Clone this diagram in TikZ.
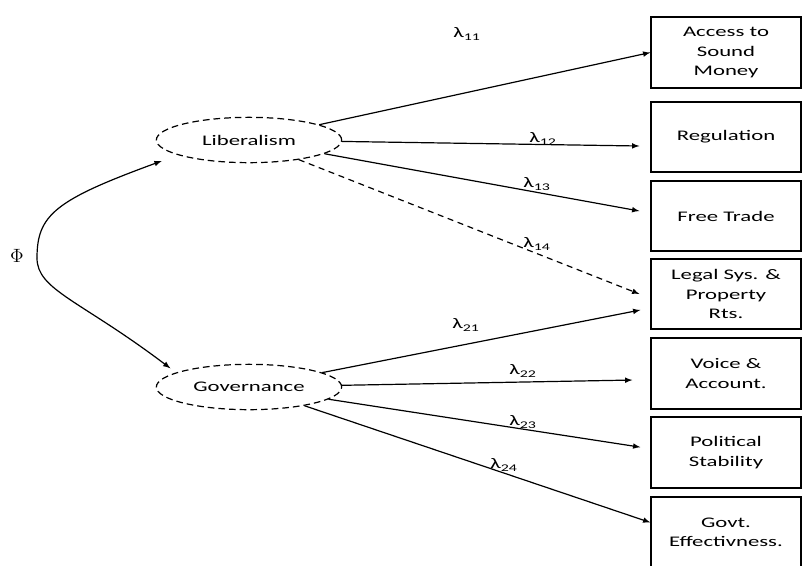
\documentclass[tikz,border=0pt]{standalone}
\usepackage{fontspec}
\setmainfont[FakeStretch=1.55]{Carlito}
\usetikzlibrary{shapes.geometric}

\begin{document}
\begin{tikzpicture}[x=0.75pt, y=-0.75pt,
	latent/.style={ellipse, draw, dash pattern=on 5pt off 3pt, line width=0.9pt, minimum width=139pt, minimum height=34pt, inner sep=0pt, font=\fontsize{11}{14}\selectfont},
	indicator/.style={draw, line width=1.4pt, minimum width=112pt, minimum height=53pt, align=center, inner sep=1pt, font=\fontsize{11}{14.5}\selectfont},
	load/.style={line width=0.9pt, ->, >=latex},
	coef/.style={font=\fontsize{11}{13}\selectfont}]
	\useasboundingbox (0,0) rectangle (802,565);
	% latent factors
	\node at (17,256) (phi) {\Large$\Phi$};
	\coordinate (fork) at (37,258);
	\node[latent] at (249,140) (lib) {Liberalism};
	\node[latent] at (249,387) (gov) {Governance};
	% indicators
	\node[indicator] at (726,52.5) (money) {Access to\\Sound\\Money};
	\node[indicator] at (726,137) (regul) {Regulation};
	\node[indicator] at (726,216) (trade) {Free Trade};
	\node[indicator] at (726,294) (legal) {Legal Sys. \&\\Property\\Rts.};
	\node[indicator] at (726,373.5) (voice) {Voice \&\\Account.};
	\node[indicator] at (726,452.5) (polit) {Political\\Stability};
	\node[indicator] at (726,532.5) (effect) {Govt.\\Effectivness.};
	% correlation
	\draw[load] (fork) .. controls (37,215) and (55,200) .. ([xshift=4.5pt,yshift=-15.75pt]lib.west);
	\draw[load] (fork) .. controls (37,290) and (80,300) .. ([xshift=11pt,yshift=14pt]gov.west);
	% loadings
	\draw[load] (lib) -- (money.west) node[coef] at (467,34) {λ\textsubscript{11}};
	\draw[load] (lib) -- ([xshift=-8.25pt,yshift=-6.75pt]regul.west) node[coef] at (543,139) {λ\textsubscript{12}};
	\draw[load] (lib) -- ([xshift=-8.25pt,yshift=3.75pt]trade.west) node[coef] at (537,184) {λ\textsubscript{13}};
	\draw[load, dash pattern=on 4.5pt off 3.5pt] (lib) -- ([xshift=-8.25pt]legal.west) node[coef] at (537,244) {λ\textsubscript{14}};
	\draw[load] (gov) -- ([xshift=-7.5pt,yshift=-12pt]legal.west) node[coef] at (466,325) {λ\textsubscript{21}};
	\draw[load] (gov) -- ([xshift=-13.5pt,yshift=-4.9pt]voice.west) node[coef] at (523,371) {λ\textsubscript{22}};
	\draw[load] (gov) -- ([xshift=-7.5pt,yshift=4pt]polit.west) node[coef] at (523,422) {λ\textsubscript{23}};
	\draw[load] (gov) -- ([yshift=7.5pt]effect.west) node[coef] at (504,465) {λ\textsubscript{24}};
\end{tikzpicture}
\end{document}
